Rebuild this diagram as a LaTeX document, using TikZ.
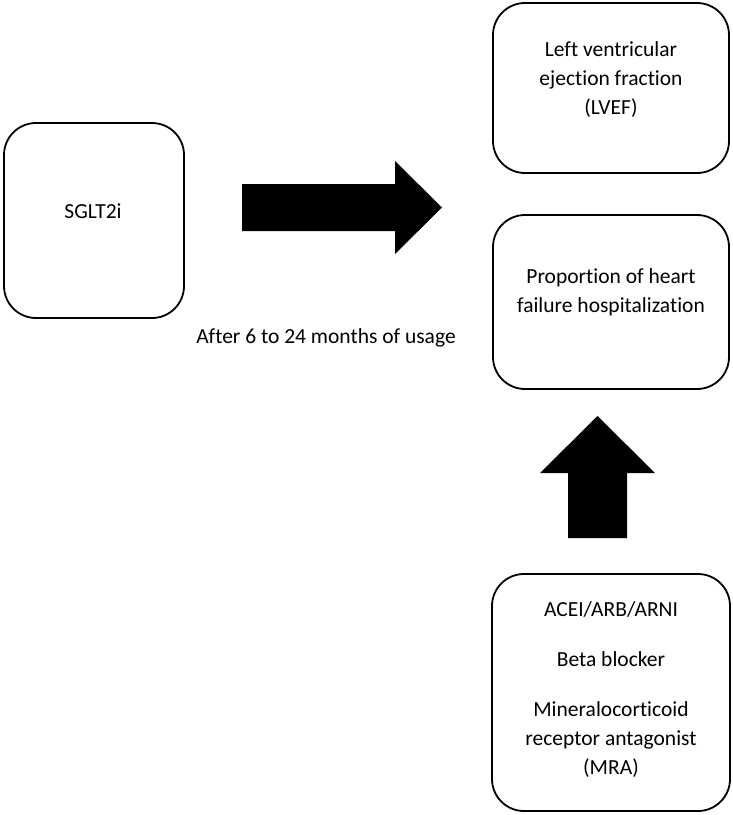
\documentclass[tikz,border=0pt]{standalone}
\usepackage{fontspec}
\setmainfont{Carlito}[Ligatures=NoCommon]
\begin{document}
\begin{tikzpicture}[x=1pt,y=-1pt,
  box/.style={draw=black, line width=1.8pt, rounded corners=32pt, rectangle},
  txt/.style={font=\fontsize{21.5pt}{29pt}\selectfont, align=center, inner sep=0pt},
  blockarrow/.style={fill=black, draw=none}]
\useasboundingbox (0,0) rectangle (733,815);
% boxes
\node[box, minimum width=180pt, minimum height=195pt] (sglt) at (94,220.5) {};
\node[box, minimum width=236pt, minimum height=170pt] (lvef) at (611,88) {};
\node[box, minimum width=236pt, minimum height=174pt] (prop) at (611,302) {};
\node[box, minimum width=238pt, minimum height=237pt] (meds) at (611,692.5) {};
% texts
\node[txt] (sglttxt) at (93,211) {SGLT2i};
\node[txt] (lveftxt) at (611,80) {Left ventricular\\ejection fraction\\(LVEF)};
\node[txt] (proptxt) at (611,292) {Proportion of heart\\failure hospitalization};
\node[txt] (medstxt) at (611,690) {ACEI/ARB/ARNI\\[21pt]Beta blocker\\[21pt]Mineralocorticoid\\receptor antagonist\\(MRA)};
\node[txt] (usage) at (326,338) {After 6 to 24 months of usage};
% block arrows
\fill[blockarrow] (242,184) -- (395,184) -- (395,161) -- (442,207.5) -- (395,254) -- (395,231) -- (242,231) -- cycle;
\fill[blockarrow] (597.5,416) -- (655,473) -- (627,473) -- (627,538) -- (568,538) -- (568,473) -- (540,473) -- cycle;
\end{tikzpicture}
\end{document}
